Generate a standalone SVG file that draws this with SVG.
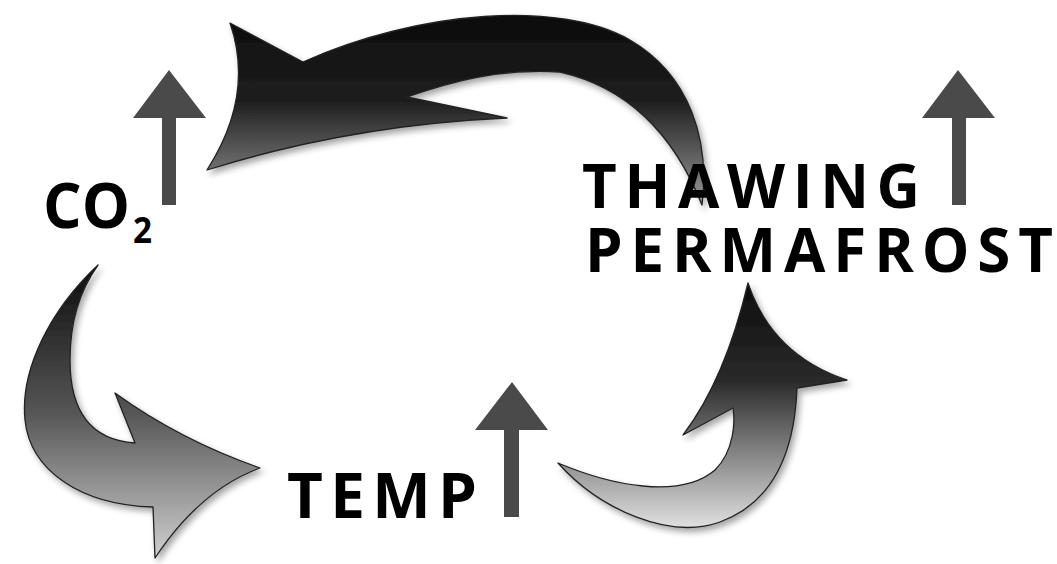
<svg xmlns="http://www.w3.org/2000/svg" width="1057" height="564" viewBox="0 0 1057 564">
<style>
.lbl{font-family:"Open Sans","Liberation Sans",sans-serif;font-weight:bold;fill:#000}
.up{fill:#4a4a4a}
.curve{stroke:#222;stroke-width:1.3;stroke-linejoin:round;filter:url(#sh)}
</style>
<defs>
<linearGradient id="gTop" x1="0" y1="0" x2="0" y2="1">
<stop offset="0" stop-color="#0c0c0c"/><stop offset="0.45" stop-color="#1e1e1e"/><stop offset="1" stop-color="#9a9a9a"/>
</linearGradient>
<linearGradient id="gLeft" x1="0" y1="0" x2="0" y2="1">
<stop offset="0" stop-color="#0c0c0c"/><stop offset="0.5" stop-color="#555"/><stop offset="1" stop-color="#d0d0d0"/>
</linearGradient>
<linearGradient id="gRight" x1="0" y1="0" x2="0" y2="1">
<stop offset="0" stop-color="#0c0c0c"/><stop offset="0.4" stop-color="#2a2a2a"/><stop offset="1" stop-color="#e0e0e0"/>
</linearGradient>
<filter id="sh" x="-10%" y="-10%" width="130%" height="130%">
<feDropShadow dx="3" dy="4" stdDeviation="3" flood-color="#000" flood-opacity="0.35"/>
</filter>
</defs>
<g id="connectors">
<path class="curve" fill="url(#gTop)" d="M207,170 Q255,95 230,23 L303,62 C420,10 560,0 630,40 C690,75 710,140 702,205 C680,150 640,90 560,72 C500,68 450,82 407,97 L507,118 Q350,125 207,170 Z"/>
<path class="curve" fill="url(#gLeft)" d="M98,265 C50,310 20,370 25,420 C30,470 80,505 153,507 L155,558 Q200,490 260,468 Q180,440 115,393 L135,443 C90,440 70,410 70,360 C70,320 80,290 98,265 Z"/>
<path class="curve" fill="url(#gRight)" d="M748,283 Q772,355 847,380 L797,388 C795,440 780,500 720,522 C670,540 600,510 558,463 C610,485 680,500 715,470 C735,450 735,420 733,408 L683,435 Q725,380 748,283 Z"/>
</g>
<g id="co2">
<polygon class="up" points="169,70 206,118 176,118 176,205 162,205 162,118 133,118"/>
<text class="lbl" x="43" y="228" font-size="62" textLength="87" lengthAdjust="spacingAndGlyphs">CO</text>
<text class="lbl" x="133" y="243" font-size="36" textLength="19" lengthAdjust="spacingAndGlyphs">2</text>
</g>
<g id="temp">
<polygon class="up" points="512,382 548,430 519,430 519,517 504,517 504,430 475,430"/>
<text class="lbl" x="287" y="518" font-size="62" textLength="190" lengthAdjust="spacing">TEMP</text>
</g>
<g id="permafrost">
<polygon class="up" points="958,70 995,118 966,118 966,205 952,205 952,118 922,118"/>
<text class="lbl" x="582" y="208" font-size="60" textLength="338" lengthAdjust="spacing">THAWING</text>
<text class="lbl" x="585" y="272" font-size="60" textLength="468" lengthAdjust="spacing">PERMAFROST</text>
</g>
</svg>
